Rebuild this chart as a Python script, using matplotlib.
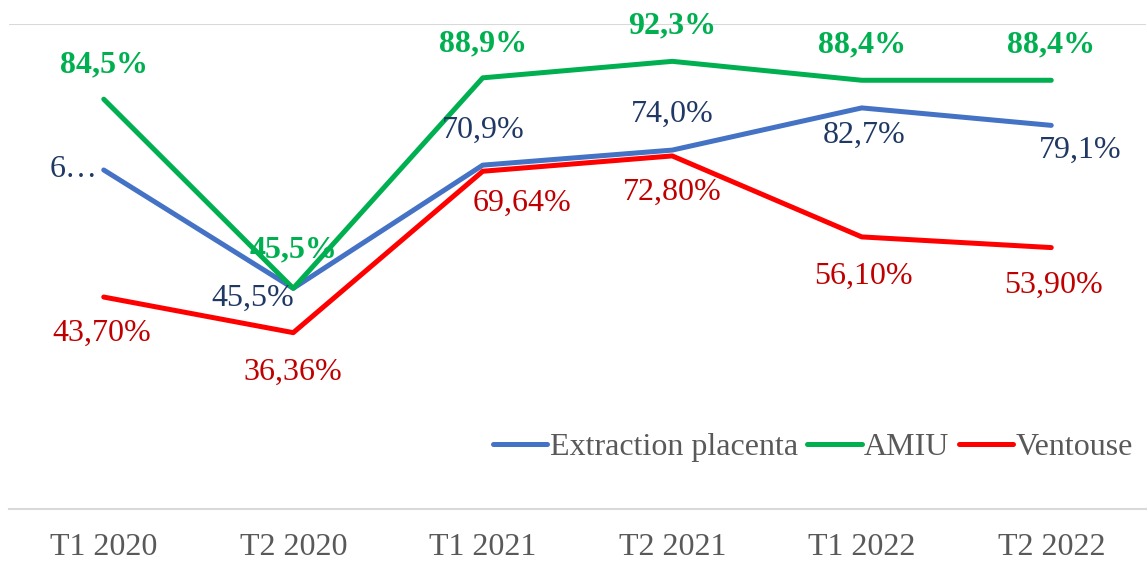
import matplotlib.pyplot as plt

plt.rcParams['font.family'] = ['Liberation Serif', 'DejaVu Serif']

categories = ['T1 2020', 'T2 2020', 'T1 2021', 'T2 2021', 'T1 2022', 'T2 2022']
extraction = [69.9, 45.5, 70.9, 74.0, 82.7, 79.1]
amiu = [84.5, 45.5, 88.9, 92.3, 88.4, 88.4]
ventouse = [43.70, 36.36, 69.64, 72.80, 56.10, 53.90]

extraction_labels = ['6…', '45,5%', '70,9%', '74,0%', '82,7%', '79,1%']
amiu_labels = ['84,5%', '45,5%', '88,9%', '92,3%', '88,4%', '88,4%']
ventouse_labels = ['43,70%', '36,36%', '69,64%', '72,80%', '56,10%', '53,90%']

# label offsets in pixels (dx, dy) relative to each point
extraction_off = [(-30, 0), (-40, -10), (0, 35), (0, 36), (2, -27), (29, -25)]
amiu_off = [(0, 34), (0, 38), (0, 34), (0, 35), (0, 35), (0, 35)]
ventouse_off = [(-2, -36), (0, -40), (39, -32), (0, -36), (2, -39), (2, -38)]

fig = plt.figure(figsize=(11.47, 5.63), dpi=100)
ax = fig.add_axes([9 / 1147, 54 / 563, 1137 / 1147, 485 / 563])

x = range(len(categories))
blue, green, red = '#4472C4', '#00B050', '#FF0000'
ax.plot(x, extraction, color=blue, lw=3.6, solid_capstyle='round', label='Extraction placenta')
ax.plot(x, amiu, color=green, lw=3.6, solid_capstyle='round', label='AMIU')
ax.plot(x, ventouse, color=red, lw=3.6, solid_capstyle='round', label='Ventouse')

for i in x:
    dx, dy = extraction_off[i]
    ax.annotate(extraction_labels[i], (i, extraction[i]), xytext=(dx, dy), textcoords='offset pixels',
                ha='center', va='center', fontsize=23, color='#203864')
    dx, dy = amiu_off[i]
    ax.annotate(amiu_labels[i], (i, amiu[i]), xytext=(dx, dy), textcoords='offset pixels',
                ha='center', va='center', fontsize=23, color=green, fontweight='bold')
    dx, dy = ventouse_off[i]
    ax.annotate(ventouse_labels[i], (i, ventouse[i]), xytext=(dx, dy), textcoords='offset pixels',
                ha='center', va='center', fontsize=23, color='#C00000')

ax.set_xlim(-0.5, 5.5)
ax.set_ylim(0, 100)
ax.set_yticks([])
ax.axhline(100, color='#D9D9D9', lw=1.5)
for s in ['top', 'right', 'left']:
    ax.spines[s].set_visible(False)
ax.spines['bottom'].set_color('#D9D9D9')
ax.spines['bottom'].set_linewidth(1.5)
ax.set_xticks(list(x))
ax.set_xticklabels(categories, fontsize=23, color='#595959')
ax.tick_params(axis='x', length=0, pad=17)

leg = fig.legend(loc='center', bbox_to_anchor=(813 / 1147, 1 - 447 / 563), ncol=3, frameon=False,
                 fontsize=23, handlelength=1.7, handletextpad=0.08, columnspacing=0.3, labelcolor='#595959')

fig.savefig('out.png', dpi=100)
